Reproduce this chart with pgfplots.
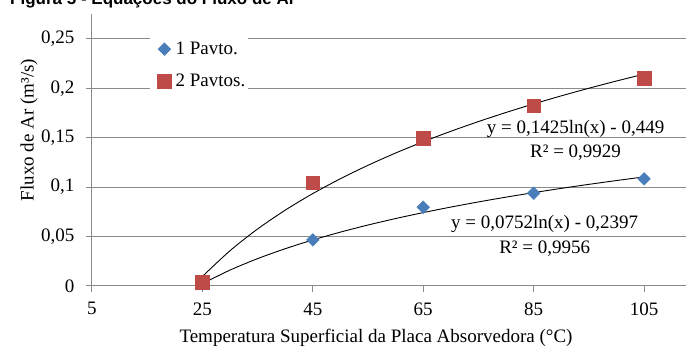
\documentclass[border=0pt]{standalone}
\usepackage{fontspec}
\setmainfont{Liberation Serif}
\newfontfamily\titlefont{Liberation Sans}
\usepackage{pgfplots}
\pgfplotsset{compat=1.18}
\definecolor{sblue}{HTML}{4A7EBB}
\definecolor{sred}{HTML}{BE4B48}
\definecolor{gridc}{HTML}{8A8A8A}
\newcommand{\cfont}{\fontsize{19}{22}\selectfont}

\pgfplotstableread{
x y
25 0.002
45 0.0466
65 0.0797
85 0.0938
105 0.1083
}\seriesA
\pgfplotstableread{
x y
25 0.0037
45 0.1046
65 0.1494
85 0.1822
105 0.2102
}\seriesB

\begin{document}
\begin{tikzpicture}
\begin{axis}[name=ax, at={(0pt,0pt)}, anchor=south west,
  scale only axis, width=594pt, height=272pt,
  xmin=5, xmax=112.6, ymin=0, ymax=0.275,
  xtick={5,25,45,65,85,105},
  ytick={0,0.05,0.1,0.15,0.2,0.25},
  xticklabel={\pgfmathprintnumber[assume math mode=true]{\tick}},
  yticklabel={\pgfmathprintnumber[fixed,precision=2,use comma,assume math mode=true]{\tick}},
  axis x line*=bottom, axis y line*=left,
  axis line style={gridc, line width=1pt, -},
  tick style={gridc, line width=1pt},
  tick align=outside, major tick length=6pt,
  ymajorgrids, grid style={gridc, line width=1pt},
  ticklabel style={font=\cfont, text=black},
  xticklabel style={yshift=-7pt},
  yticklabel style={xshift=-8pt},
  legend style={at={(58pt,252pt)}, anchor=north west, draw=none, fill=white,
    font=\cfont, row sep=14pt, inner xsep=1pt, inner ysep=6pt,
    legend cell align=left},
  legend image code/.code={\path (-13pt,0pt) (9pt,0pt); \draw[#1] plot coordinates {(0pt,0pt)};},
  clip=false,
]
\addplot[only marks, mark=square*, mark size=4.5pt, mark options={rotate=45, draw=sblue, fill=sblue}] table[x=x,y=y] {\seriesA};
\addlegendentry{1 Pavto.}
\addplot[only marks, mark=square*, mark size=6.8pt, mark options={draw=sred, fill=sred}] table[x=x,y=y] {\seriesB};
\addlegendentry{2 Pavtos.}
% trendline y = 0,0752 ln(x) - 0,2397
\addplot[black, line width=0.9pt, smooth, forget plot] coordinates {
(25,0.00236) (30,0.01607) (35,0.02766) (40,0.03770) (45,0.04656) (50,0.05448)
(55,0.06165) (60,0.06819) (65,0.07421) (70,0.07979) (75,0.08498) (80,0.08983)
(85,0.09439) (90,0.09869) (95,0.10275) (100,0.10661) (105,0.11028)};
% trendline y = 0,1425 ln(x) - 0,449
\addplot[black, line width=0.9pt, smooth, forget plot] coordinates {
(25,0.00969) (30,0.03567) (35,0.05764) (40,0.07667) (45,0.09345) (50,0.10846)
(55,0.12204) (60,0.13444) (65,0.14585) (70,0.15641) (75,0.16624) (80,0.17544)
(85,0.18408) (90,0.19222) (95,0.19993) (100,0.20724) (105,0.21419)};
\node[font=\cfont] at (axis cs:92.6,0.159) {y = 0,1425ln(x) - 0,449};
\node[font=\cfont] at (axis cs:92.6,0.1345) {R² = 0,9929};
\node[font=\cfont] at (axis cs:87.0,0.0628) {y = 0,0752ln(x) - 0,2397};
\node[font=\cfont] at (axis cs:87.0,0.0375) {R² = 0,9956};
\end{axis}
\node[font=\cfont, rotate=90] at ([shift={(-63pt,156pt)}]ax.south west) {Fluxo de Ar (m³/s)};
\node[font=\cfont, anchor=base] at ([shift={(284pt,-57pt)}]ax.south west) {Temperatura Superficial da Placa Absorvedora (°C)};
\node[font=\titlefont\bfseries\fontsize{17}{20}\selectfont, anchor=base west, inner sep=0pt] at ([shift={(-82pt,281pt)}]ax.south west) {Figura 5 - Equações do Fluxo de Ar};
\pgfresetboundingbox
\path[use as bounding box] ([shift={(-92pt,-61pt)}]ax.south west) rectangle ([shift={(599pt,286pt)}]ax.south west);
\end{tikzpicture}
\end{document}
